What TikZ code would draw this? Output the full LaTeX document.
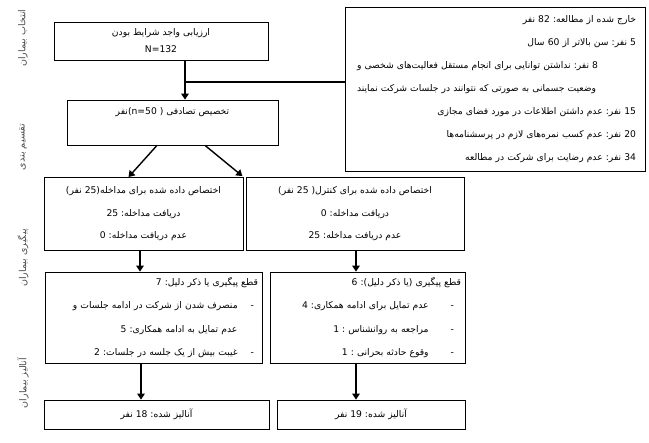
\documentclass[tikz,border=0pt]{standalone}
\usepackage{fontspec}
\usetikzlibrary{arrows.meta,positioning}
\TeXXeTstate=1
\frenchspacing
\newfontfamily\farsi[Script=Arabic]{DejaVu Sans}
\newcommand{\fa}[1]{\beginR #1\endR}
\newcommand{\faj}[2]{\leavevmode\hbox to #1{#2}}

\tikzset{
  stagebox/.style={draw=black, line width=0.8pt, inner sep=0pt, align=center,
    font=\farsi\fontsize{9.2}{22.5}\selectfont},
  flow/.style={-{Triangle[length=6pt,width=7.5pt]}, line width=1.4pt},
  sidelabel/.style={rotate=90, text=black!70, font=\farsi\fontsize{9.5}{11}\selectfont},
}

\begin{document}
\begin{tikzpicture}[x=1pt, y=-1pt]
  \useasboundingbox (0,0) rectangle (649,443);

  % stage labels on the left
  \node[sidelabel] (selectlab) at (23,38) {\fa{انتخاب بیماران}};
  \node[sidelabel] (splitlab) at (23,147) {\fa{تقسیم بندی}};
  \node[sidelabel] (followlab) at (23,258) {\fa{پیگیری بیماران}};
  \node[sidelabel] (analysislab) at (23,383) {\fa{آنالیز بیماران}};

  % enrolment
  \node[stagebox, minimum width=214pt, minimum height=38pt,
    font=\farsi\fontsize{9.2}{17}\selectfont] (eval) at (161,41)
    {\fa{ارزیابی واجد شرایط بودن}\\N=132};
  \node[stagebox, minimum width=300pt, minimum height=164pt, text width=282pt,
    inner xsep=9pt, align=right, font=\farsi\fontsize{9.2}{22.9}\selectfont] (excl) at (495,89)
    {\fa{خارج شده از مطالعه: 82 نفر}\\
     \fa{5 نفر: سن بالاتر از 60 سال}\\
     \faj{279pt}{\beginR 8 نفر: نداشتن توانایی برای انجام مستقل فعالیت‌های شخصی و\endR}\\
     \faj{279pt}{\beginR وضعیت جسمانی به صورتی که نتوانند در جلسات شرکت نمایند\endR}\\
     \fa{15 نفر: عدم داشتن اطلاعات در مورد فضای مجازی}\\
     \fa{20 نفر: عدم کسب نمره‌های لازم در پرسشنامه‌ها}\\
     \fa{34 نفر: عدم رضایت برای شرکت در مطالعه}};
  \node[stagebox, minimum width=211pt, minimum height=45pt] (alloc) at (172.5,122.5)
    {\fa{تخصیص تصادفی ( \beginL(n=50\endL{}نفر}\\\mbox{}};

  % allocation
  \node[stagebox, minimum width=199pt, minimum height=73pt] (interv) at (143.5,214)
    {\fa{اختصاص داده شده برای مداخله(25 نفر)}\\
     \fa{دریافت مداخله: 25}\\
     \fa{عدم دریافت مداخله: 0}};
  \node[stagebox, minimum width=218pt, minimum height=73pt] (ctrl) at (355,214)
    {\fa{اختصاص داده شده برای کنترل( 25 نفر)}\\
     \fa{دریافت مداخله: 0}\\
     \fa{عدم دریافت مداخله: 25}};

  % follow-up
  \node[stagebox, minimum width=217pt, minimum height=91pt, text width=209pt,
    inner xsep=4pt, align=right, font=\farsi\fontsize{9.2}{23.3}\selectfont] (followI) at (153.5,317.5)
    {\fa{قطع پیگیری یا ذکر دلیل: 7}\\
     \fa{\kern4pt-\hskip13pt منصرف شدن از شرکت در ادامه جلسات و}\\
     \fa{\kern20.6pt عدم تمایل به ادامه همکاری: 5}\\
     \fa{\kern4pt-\hskip13pt غیبت بیش از یک جلسه در جلسات: 2}};
  \node[stagebox, minimum width=195pt, minimum height=91pt, text width=187pt,
    inner xsep=4pt, align=right, font=\farsi\fontsize{9.2}{23.3}\selectfont] (followC) at (367.5,317.5)
    {\fa{قطع پیگیری (یا ذکر دلیل): 6}\\
     \fa{\kern7pt-\hskip22pt عدم تمایل برای ادامه همکاری: 4}\\
     \fa{\kern7pt-\hskip22pt مراجعه به روانشناس : 1}\\
     \fa{\kern7pt-\hskip22pt وقوع حادثه بحرانی : 1}};

  % analysis
  \node[stagebox, minimum width=225pt, minimum height=29pt] (analI) at (156.5,414.5)
    {\fa{آنالیز شده: 18 نفر}};
  \node[stagebox, minimum width=188pt, minimum height=29pt] (analC) at (371,414.5)
    {\fa{آنالیز شده: 19 نفر}};

  % connectors
  \coordinate (exclsplit) at (185,82);
  \draw[flow] ([xshift=24pt]eval.south) -- ([xshift=12.5pt]alloc.north);
  \draw[line width=1.4pt] (exclsplit) -- (exclsplit -| excl.west);
  \draw[flow] ([xshift=-15.5pt]alloc.south) -- ([xshift=-15pt]interv.north);
  \draw[flow] ([xshift=32.5pt]alloc.south) -- ([xshift=-1pt,yshift=1pt]interv.north east);
  \draw[flow] ([xshift=-3.5pt]interv.south) -- ([xshift=-3.5pt]interv.south |- followI.north);
  \draw[flow] ([xshift=1pt]ctrl.south) -- ([xshift=1pt]ctrl.south |- followC.north);
  \draw[flow] ([xshift=-12.5pt]followI.south) -- ([xshift=-12.5pt]followI.south |- analI.north);
  \draw[flow] ([xshift=-11.5pt]followC.south) -- ([xshift=-11.5pt]followC.south |- analC.north);
\end{tikzpicture}
\end{document}
